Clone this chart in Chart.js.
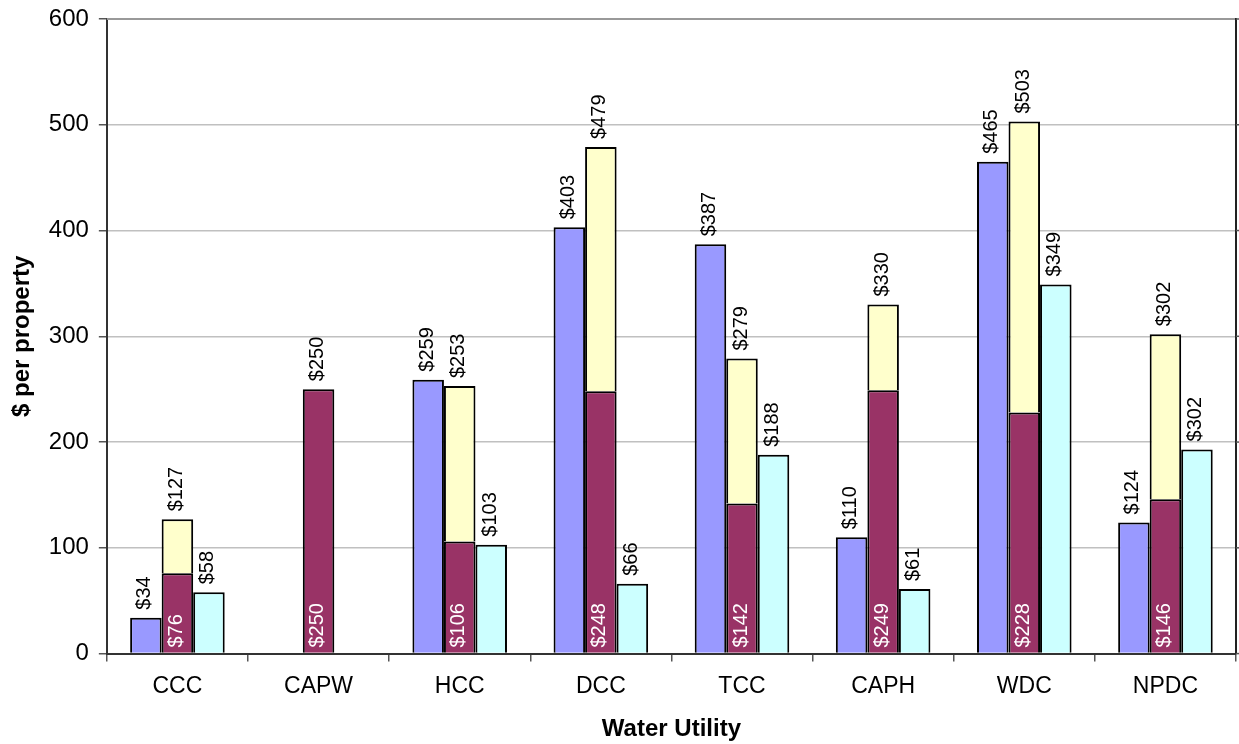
<!DOCTYPE html>
<html>
<head>
<meta charset="utf-8">
<script src="https://cdn.jsdelivr.net/npm/chart.js@4/dist/chart.umd.min.js"></script>
<style>
  html, body { margin: 0; padding: 0; background: #fff; }
  #wrap { width: 1239px; height: 744px; }
</style>
</head>
<body>
<div id="wrap"><canvas id="c" width="1239" height="744"></canvas></div>
<script>
// ---- data ----
const categories = ['CCC', 'CAPW', 'HCC', 'DCC', 'TCC', 'CAPH', 'WDC', 'NPDC'];
const blueValues   = [34, null, 259, 403, 387, 110, 465, 124];
const maroonValues = [76, 250, 106, 248, 142, 249, 228, 146];
const stackTotals  = [127, 250, 253, 479, 279, 330, 503, 302];
const cyanValues   = [58, null, 103, 66, 188, 61, 349, 193];
const cyanLabels   = ['$58', '', '$103', '$66', '$188', '$61', '$349', '$302'];
const yTicks       = [0, 100, 200, 300, 400, 500, 600];

const yellowValues = stackTotals.map((t, i) => {
  const d = t - maroonValues[i];
  return d > 0 ? d : null;
});

const FONT = '"Liberation Sans", Arial, sans-serif';

const labelPlugin = {
  id: 'barLabels',
  afterDatasetsDraw(chart) {
    const ctx = chart.ctx;
    const y = chart.scales.y;
    const metaBlue = chart.getDatasetMeta(0);
    const metaMaroon = chart.getDatasetMeta(1);
    const metaCyan = chart.getDatasetMeta(3);
    ctx.save();
    ctx.font = '20px ' + FONT;
    ctx.textBaseline = 'middle';
    const drawRot = (x, yy, text, color) => {
      ctx.save();
      ctx.translate(x, yy);
      ctx.rotate(-Math.PI / 2);
      ctx.fillStyle = color;
      ctx.textAlign = 'left';
      ctx.fillText(text, 0, 0);
      ctx.restore();
    };
    categories.forEach((c, i) => {
      if (blueValues[i] != null) {
        const el = metaBlue.data[i];
        drawRot(el.x - 1, el.y - 8, '$' + blueValues[i], '#000');
      }
      if (maroonValues[i] != null) {
        const el = metaMaroon.data[i];
        drawRot(el.x - 1, y.getPixelForValue(0) - 6, '$' + maroonValues[i], '#fff');
        drawRot(el.x - 1, y.getPixelForValue(stackTotals[i]) - 8, '$' + stackTotals[i], '#000');
      }
      if (cyanValues[i] != null) {
        const el = metaCyan.data[i];
        drawRot(el.x - 1, el.y - 8, cyanLabels[i], '#000');
      }
    });
    ctx.restore();
  }
};

const framePlugin = {
  id: 'frame',
  afterDraw(chart) {
    const ctx = chart.ctx;
    const a = chart.chartArea;
    const y = chart.scales.y;
    ctx.save();
    ctx.strokeStyle = '#999';
    ctx.lineWidth = 2;
    ctx.beginPath();
    ctx.moveTo(a.left, a.top);
    ctx.lineTo(a.right, a.top);
    ctx.stroke();
    ctx.strokeStyle = '#222';
    ctx.lineWidth = 2;
    ctx.beginPath();
    ctx.moveTo(a.right, a.top - 1);
    ctx.lineTo(a.right, a.bottom);
    ctx.stroke();
    ctx.lineWidth = 1.5;
    ctx.strokeStyle = '#555';
    yTicks.forEach(v => {
      const py = y.getPixelForValue(v);
      ctx.beginPath();
      ctx.moveTo(a.right, py);
      ctx.lineTo(a.right + 5, py);
      ctx.stroke();
    });
    ctx.restore();
  }
};

new Chart(document.getElementById('c'), {
  type: 'bar',
  data: {
    labels: categories,
    datasets: [
      { label: 'A', data: blueValues, backgroundColor: '#9999FF', stack: 's1' },
      { label: 'B', data: maroonValues, backgroundColor: '#993366', stack: 's2' },
      { label: 'C', data: yellowValues, backgroundColor: '#FFFFCC', stack: 's2' },
      { label: 'D', data: cyanValues, backgroundColor: '#CCFFFF', stack: 's3' }
    ].map(d => Object.assign(d, { borderColor: '#000', borderWidth: 2 }))
  },
  options: {
    responsive: false,
    devicePixelRatio: 1,
    animation: false,
    categoryPercentage: 0.67,
    barPercentage: 1.0,
    layout: { padding: { top: 0, right: 3, left: 8, bottom: 0 } },
    plugins: {
      legend: { display: false },
      tooltip: { enabled: false }
    },
    scales: {
      x: {
        stacked: true,
        grid: { display: true, drawOnChartArea: false, drawTicks: true, tickLength: 8, tickColor: '#555', lineWidth: 1.5, offset: true },
        border: { display: true, color: '#333', width: 2 },
        ticks: { color: '#000', font: { family: FONT, size: 23 }, padding: 11 },
        title: { display: true, text: 'Water Utility', color: '#000', font: { family: FONT, size: 24, weight: 'bold' }, padding: { top: 4, bottom: 0 } }
      },
      y: {
        stacked: true,
        min: 0,
        max: 600,
        afterBuildTicks(scale) { scale.ticks = yTicks.map(v => ({ value: v })); },
        grid: { color: '#c0c0c0', lineWidth: 1.5, drawTicks: true, tickLength: 8, tickColor: '#555' },
        border: { display: true, color: '#333', width: 2 },
        ticks: { color: '#000', font: { family: FONT, size: 24, lineHeight: 0.75 }, padding: 10 },
        title: { display: true, text: '$ per property', color: '#000', font: { family: FONT, size: 24, weight: 'bold' }, padding: { top: 0, bottom: 2 } }
      }
    }
  },
  plugins: [labelPlugin, framePlugin]
});
</script>
</body>
</html>
